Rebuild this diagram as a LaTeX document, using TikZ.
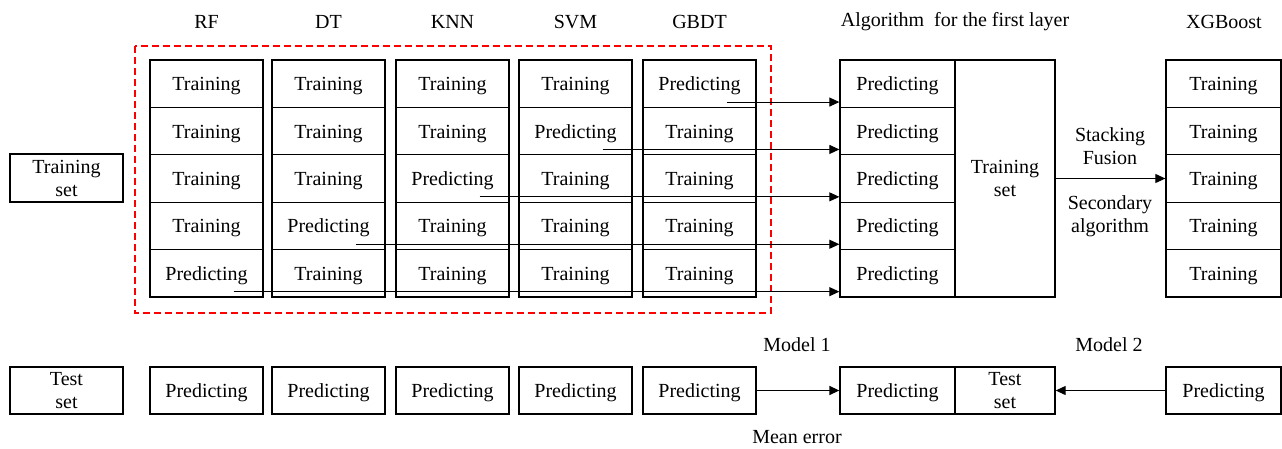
\documentclass[tikz,border=0pt]{standalone}
\usepackage{fontspec}
\setmainfont{Liberation Serif}
\usetikzlibrary{arrows.meta,calc}
\newcommand\myfs{\fontsize{20}{23}\selectfont}
\begin{document}
\begin{tikzpicture}[x=1pt,y=-1pt,
  cellbase/.style={draw,line width=1.3pt,minimum width=113pt,minimum height=47.4pt,inner sep=0pt,anchor=center,font=\myfs,align=center},
  cell/.style={cellbase,text height=16pt,text depth=2pt},
  lbl/.style={inner sep=0pt,anchor=center,font=\myfs,align=center},
  arr/.style={line width=1pt,-{Triangle[length=10pt,width=9pt]}},
  redbox/.style={draw=red,line width=1.5pt,dash pattern=on 7pt off 4pt}]
\useasboundingbox (0,0) rectangle (1282,448);
% left training set
\node[cellbase,minimum height=48pt] (tl) at (66.5,178) {Training\\set};
% red dashed frame
\draw[redbox] (135,46) rectangle (771,313);
% five first-layer columns
\foreach \c/\x/\p/\h in {1/206.5/5/RF,2/328.5/4/DT,3/452.5/3/KNN,4/575.5/2/SVM,5/699.5/1/GBDT}{
  \node[lbl] (h\c) at (\x,22) {\h};
  \foreach \r in {1,...,5}{
    \node[cell] (c\c-\r) at (\x,{36.3+47.4*\r}) {\ifnum\r=\p Predicting\else Training\fi};
  }
  \node[cell,minimum height=47pt] (bp\c) at (\x,390.5) {Predicting};
}
% algorithm for first layer
\node[lbl] (ha) at (955,22) {Algorithm\ \ for the first layer};
\foreach \r in {1,...,5}{
  \node[cell,minimum width=115pt] (a\r) at (897.5,{36.3+47.4*\r}) {Predicting};
}
\node[cellbase,minimum width=100pt,minimum height=237pt] (ts) at (1005,178.5) {Training\\set};
% XGBoost
\node[lbl] (hx) at (1224,22) {XGBoost};
\foreach \r in {1,...,5}{
  \node[cell,minimum width=115pt] (x\r) at (1223.5,{36.3+47.4*\r}) {Training};
}
% stacking labels
\node[lbl] (sf) at (1110,146.5) {Stacking\\Fusion};
\node[lbl] (sa) at (1110,216.5) {Secondary\\algorithm};
\draw[arr] (ts.east) -- (ts.east -| x3.west);
% arrows from predicting cells
\foreach \c/\r in {5/1,4/2,3/3,2/4,1/5}{
  \coordinate (s\r) at ($(c\c-\r.south)+(27,-6)$);
  \draw[arr] (s\r) -- (s\r -| a\r.west);
}
% bottom row
\node[cellbase,minimum height=47pt] (tt) at (66.5,390.5) {Test\\set};
\node[cell,minimum width=115pt,minimum height=47pt] (ba) at (897.5,390.5) {Predicting};
\node[cellbase,minimum width=100pt,minimum height=47pt] (bt) at (1005,390.5) {Test\\set};
\node[cell,minimum width=115pt,minimum height=47pt] (bx) at (1223.5,390.5) {Predicting};
\draw[arr,line width=1.4pt] (bp5.east) -- (ba.west);
\draw[arr] (bx.west) -- (bt.east);
\node[lbl] (m1) at (797,345) {Model 1};
\node[lbl] (me) at (797,437) {Mean error};
\node[lbl] (m2) at (1109,345) {Model 2};
\end{tikzpicture}
\end{document}
